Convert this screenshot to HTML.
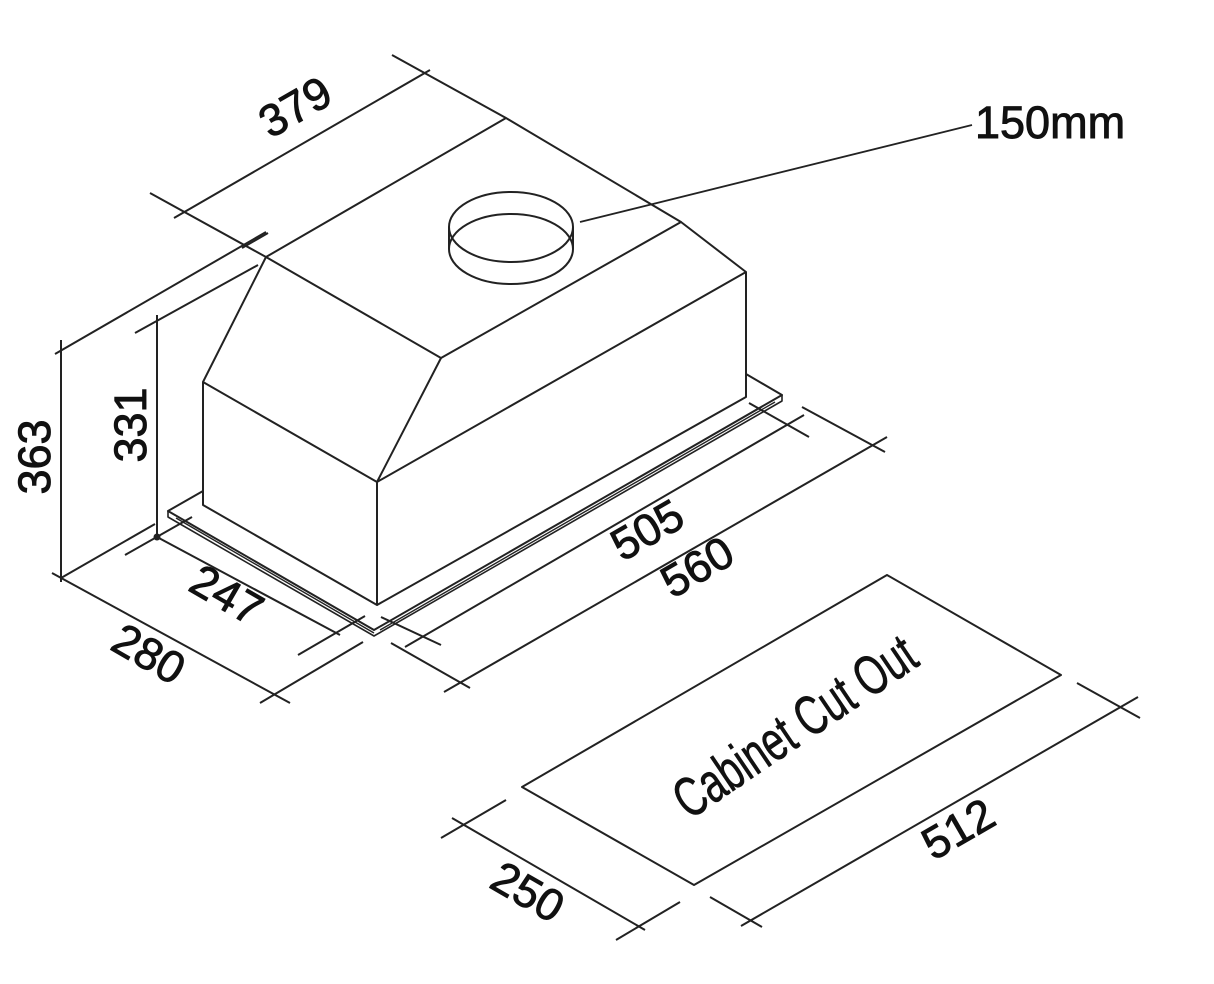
<!DOCTYPE html>
<html><head><meta charset="utf-8"><style>
html,body{margin:0;padding:0;background:#fff;}
svg{display:block;}
text{font-family:"Liberation Sans",Arial,sans-serif;fill:#111;stroke:#111;stroke-width:0.9px;}
</style></head><body>
<svg width="1214" height="984" viewBox="0 0 1214 984" xmlns="http://www.w3.org/2000/svg">
<g fill="none" stroke="#222" stroke-width="2" stroke-linejoin="round">
<polygon points="266,257 506,118 681,222 441,358"/>
<polyline points="266,257 203,382 377,482 441,358"/>
<polyline points="377,482 746,272 681,222"/>
<polyline points="203,382 203,505 377,605 377,482"/>
<polyline points="377,605 746,397 746,272"/>
<polyline points="203,491 168,511 374,630 782,395 746,374"/>
<polyline points="168,511 168,517 374,636 782,401 782,395" stroke-width="1.6"/>
<line x1="176" y1="518" x2="374" y2="633" stroke-width="1.4"/>
<line x1="380" y1="630" x2="775" y2="402" stroke-width="1.4"/>
<ellipse cx="511" cy="227" rx="62" ry="35"/>
<ellipse cx="511" cy="249" rx="62" ry="35"/>
<line x1="449" y1="227" x2="449" y2="249"/>
<line x1="573" y1="227" x2="573" y2="249"/>
<line x1="580" y1="222" x2="972" y2="125" stroke-width="1.8"/>
<line x1="150" y1="193" x2="266" y2="257"/>
<line x1="392" y1="55" x2="506" y2="118"/>
<line x1="174" y1="218" x2="430" y2="70"/>
<line x1="242" y1="248" x2="268" y2="233"/>
<line x1="61" y1="340" x2="61" y2="582"/>
<line x1="55" y1="354" x2="266" y2="232"/>
<line x1="61" y1="578" x2="155" y2="524"/>
<line x1="157" y1="315" x2="157" y2="537"/>
<line x1="135" y1="333" x2="258" y2="265"/>
<circle cx="157" cy="537" r="2.5" fill="#222"/>
<line x1="125" y1="555" x2="192" y2="517"/>
<line x1="157" y1="537" x2="340" y2="635"/>
<line x1="298" y1="655" x2="365" y2="616"/>
<line x1="52" y1="573" x2="290" y2="703"/>
<line x1="260" y1="703" x2="363" y2="642"/>
<line x1="381" y1="617" x2="441" y2="645"/>
<line x1="749" y1="403" x2="809" y2="437"/>
<line x1="405" y1="647" x2="804" y2="415"/>
<line x1="391" y1="643" x2="470" y2="688"/>
<line x1="802" y1="407" x2="885" y2="452"/>
<line x1="444" y1="692" x2="887" y2="437"/>
<polygon points="887,575 1061,675 694,885 522,787"/>
<line x1="710" y1="897" x2="762" y2="927"/>
<line x1="1077" y1="683" x2="1140" y2="718"/>
<line x1="741" y1="926" x2="1138" y2="697"/>
<line x1="441" y1="838" x2="506" y2="800"/>
<line x1="616" y1="940" x2="680" y2="902"/>
<line x1="452" y1="818" x2="645" y2="930"/>
</g>
<text x="975" y="138" font-size="45">150mm</text>
<text transform="translate(297,110) rotate(-30)" font-size="45" text-anchor="middle" dominant-baseline="middle">379</text>
<text transform="translate(38,457) rotate(-90)" font-size="45" text-anchor="middle" dominant-baseline="middle">363</text>
<text transform="translate(134,425) rotate(-90)" font-size="45" text-anchor="middle" dominant-baseline="middle">331</text>
<text transform="translate(225,598) rotate(30)" font-size="45" text-anchor="middle" dominant-baseline="middle">247</text>
<text transform="translate(147,657) rotate(30)" font-size="45" text-anchor="middle" dominant-baseline="middle">280</text>
<text transform="translate(649,533) rotate(-30)" font-size="45" text-anchor="middle" dominant-baseline="middle">505</text>
<text transform="translate(699,570) rotate(-30)" font-size="45" text-anchor="middle" dominant-baseline="middle">560</text>
<text transform="translate(526,895) rotate(30)" font-size="45" text-anchor="middle" dominant-baseline="middle">250</text>
<text transform="translate(960,832) rotate(-30)" font-size="45" text-anchor="middle" dominant-baseline="middle">512</text>
<text transform="translate(797,730) rotate(-34) scale(0.78,1.12)" font-size="50" text-anchor="middle" dominant-baseline="middle" style="stroke-width:0.6px">Cabinet Cut Out</text>
</svg>
</body></html>
